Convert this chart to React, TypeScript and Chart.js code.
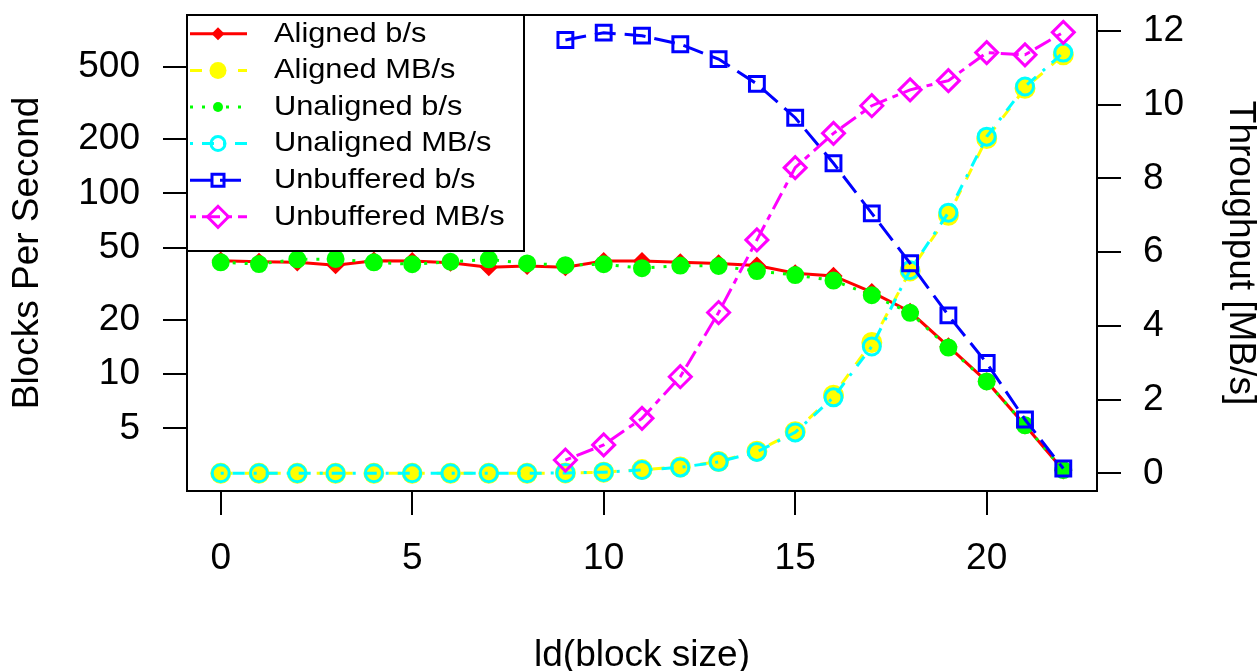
import React, { useEffect, useRef } from 'react';
import { Chart, registerables } from 'chart.js';

Chart.register(...registerables);

// ---------- data ----------
const blockSizeLd = [0, 1, 2, 3, 4, 5, 6, 7, 8, 9, 10, 11, 12, 13, 14, 15, 16, 17, 18, 19, 20, 21, 22];

const alignedBps = [42.4, 41.8, 41.5, 40.0, 42.4, 42.2, 41.3, 39.0, 39.6, 39.0, 42.2, 42.2, 41.5, 40.9, 39.8, 36.1, 34.9, 28.4, 22.1, 14.2, 9.1, 5.2, 2.93];
const alignedMBs = [0, 0, 0, 0, 0, 0, 0, 0, 0, 0.01, 0.03, 0.1, 0.17, 0.32, 0.6, 1.13, 2.12, 3.55, 5.49, 7.0, 9.08, 10.44, 11.35];
const unalignedBps = [41.5, 40.6, 43.1, 43.3, 41.5, 40.5, 41.8, 43.1, 40.9, 40.0, 40.5, 38.5, 39.8, 39.6, 37.1, 35.3, 32.9, 27.3, 21.8, 14.0, 9.1, 5.2, 2.94];
const unalignedMBs = [0, 0, 0, 0, 0, 0, 0, 0, 0, 0.01, 0.03, 0.09, 0.16, 0.31, 0.58, 1.11, 2.06, 3.44, 5.51, 7.07, 9.13, 10.49, 11.41];
const unbufferedBps = [null, null, null, null, null, null, null, null, null, 705, 774, 745, 668, 553, 403, 262, 146.6, 77.5, 41, 21.1, 11.5, 5.6, 3.0];
const unbufferedMBs = [null, null, null, null, null, null, null, null, null, 0.36, 0.77, 1.49, 2.62, 4.36, 6.33, 8.29, 9.22, 9.97, 10.4, 10.65, 11.41, 11.35, 11.96];

const seriesLabels = ['Aligned b/s', 'Aligned MB/s', 'Unaligned b/s', 'Unaligned MB/s', 'Unbuffered b/s', 'Unbuffered MB/s'];
const seriesValues = [alignedBps, alignedMBs, unalignedBps, unalignedMBs, unbufferedBps, unbufferedMBs];
const seriesAxis = ['y', 'y1', 'y', 'y1', 'y', 'y1'];

const xTicks = [0, 5, 10, 15, 20];
const leftTicks = [5, 10, 20, 50, 100, 200, 500];
const rightTicks = [0, 2, 4, 6, 8, 10, 12];

const xTitle = 'ld(block size)';
const leftTitle = 'Blocks Per Second';
const rightTitle = 'Throughput [MB/s]';

// ---------- styles ----------
const FONT = '"Liberation Sans", Arial, Helvetica, sans-serif';

type Style = {
  color: string;
  dash: number[];
  shape: 'circle' | 'rect' | 'rectRot';
  radius: number;
  legendRadius: number;
  filled: boolean;
};

const styles: Style[] = [
  { color: '#FF0000', dash: [], shape: 'rectRot', radius: 7, legendRadius: 6.5, filled: true },
  { color: '#FFFF00', dash: [12, 12], shape: 'circle', radius: 9, legendRadius: 8.5, filled: true },
  { color: '#00FF00', dash: [3, 9], shape: 'circle', radius: 7.5, legendRadius: 5, filled: true },
  { color: '#00FFFF', dash: [3, 9, 12, 9], shape: 'circle', radius: 8.5, legendRadius: 7, filled: false },
  { color: '#0000FF', dash: [21, 9], shape: 'rect', radius: 10.5, legendRadius: 8.5, filled: false },
  { color: '#FF00FF', dash: [6, 6, 18, 6], shape: 'rectRot', radius: 11, legendRadius: 10.5, filled: false },
];

function drawMarker(ctx: CanvasRenderingContext2D, s: Style, x: number, y: number, r: number) {
  ctx.save();
  ctx.setLineDash([]);
  ctx.lineWidth = 3;
  ctx.strokeStyle = s.color;
  ctx.fillStyle = s.color;
  ctx.beginPath();
  if (s.shape === 'circle') {
    ctx.arc(x, y, r, 0, Math.PI * 2);
  } else if (s.shape === 'rect') {
    const h = r * Math.SQRT1_2;
    ctx.rect(x - h, y - h, 2 * h, 2 * h);
  } else {
    ctx.moveTo(x - r, y);
    ctx.lineTo(x, y - r);
    ctx.lineTo(x + r, y);
    ctx.lineTo(x, y + r);
    ctx.closePath();
  }
  if (s.filled) ctx.fill();
  else ctx.stroke();
  ctx.restore();
}

const framePlugin = {
  id: 'frameAndLegend',
  afterDraw(chart: any) {
    const { ctx, chartArea } = chart;
    ctx.save();
    // plot box
    ctx.strokeStyle = '#000';
    ctx.lineWidth = 2;
    ctx.setLineDash([]);
    ctx.strokeRect(chartArea.left, chartArea.top, chartArea.right - chartArea.left, chartArea.bottom - chartArea.top);

    // legend box
    const lx = chartArea.left;
    const ly = chartArea.top;
    const lw = 337;
    const lh = 236;
    ctx.fillStyle = '#fff';
    ctx.fillRect(lx, ly, lw, lh);
    ctx.strokeRect(lx, ly, lw, lh);

    const rowH = 36.6;
    const firstRow = ly + 18.8;
    seriesLabels.forEach((label, i) => {
      const s = styles[i];
      const y = firstRow + i * rowH;
      ctx.save();
      ctx.beginPath();
      ctx.rect(lx + 3, y - 10, 57, 20);
      ctx.clip();
      ctx.strokeStyle = s.color;
      ctx.lineWidth = 3;
      ctx.setLineDash(s.dash);
      ctx.lineCap = 'butt';
      ctx.beginPath();
      ctx.moveTo(lx + 3, y);
      ctx.lineTo(lx + 60, y);
      ctx.stroke();
      ctx.restore();
      drawMarker(ctx, s, lx + 31, y, s.legendRadius);
      ctx.save();
      ctx.fillStyle = '#000';
      ctx.font = `28px ${FONT}`;
      ctx.textBaseline = 'middle';
      ctx.textAlign = 'left';
      ctx.translate(lx + 87, y);
      ctx.scale(1.1, 1);
      ctx.fillText(label, 0, 0);
      ctx.restore();
    });
    ctx.restore();
  },
};

const tickFont = { family: FONT, size: 37, lineHeight: 1 };
const titleFont = { family: FONT, size: 37, lineHeight: 1 };

export default function App() {
  const ref = useRef<HTMLCanvasElement | null>(null);

  useEffect(() => {
    if (!ref.current) return;
    const datasets = seriesLabels.map((label, i) => {
      const s = styles[i];
      return {
        label,
        data: blockSizeLd.map((x, j) => ({ x, y: seriesValues[i][j] })),
        yAxisID: seriesAxis[i],
        borderColor: s.color,
        borderWidth: 3,
        borderDash: s.dash,
        borderCapStyle: 'butt' as const,
        backgroundColor: s.color,
        pointStyle: s.shape,
        pointRadius: s.radius,
        pointBorderWidth: 3,
        pointBorderColor: s.color,
        pointBackgroundColor: s.filled ? s.color : 'rgba(0,0,0,0)',
        pointHoverRadius: s.radius,
        tension: 0,
        fill: false,
        spanGaps: false,
        order: 5 - i,
      };
    });

    const chart = new Chart(ref.current, {
      type: 'line',
      data: { datasets },
      options: {
        animation: false,
        responsive: false,
        maintainAspectRatio: false,
        events: [],
        layout: { padding: { top: 15, left: 0, right: 0, bottom: 0 } },
        plugins: { legend: { display: false }, tooltip: { enabled: false }, title: { display: false } },
        scales: {
          x: {
            type: 'linear',
            position: 'bottom',
            min: -0.88,
            max: 22.88,
            afterBuildTicks: (s: any) => { s.ticks = xTicks.map((v) => ({ value: v })); },
            afterFit: (s: any) => { s.height = 180; s.paddingLeft = 0; s.paddingRight = 0; },
            ticks: { font: tickFont, color: '#000', padding: 25, maxRotation: 0, autoSkip: false, callback: (v: any) => String(v) },
            grid: { drawOnChartArea: false, drawTicks: true, tickLength: 24, color: '#000', lineWidth: 2 },
            border: { display: false },
            title: { display: true, text: xTitle, font: titleFont, color: '#000', padding: { top: 0, bottom: -3 } },
          },
          y: {
            type: 'logarithmic',
            position: 'left',
            min: 2.252,
            max: 969.8,
            afterBuildTicks: (s: any) => { s.ticks = leftTicks.map((v) => ({ value: v })); },
            afterFit: (s: any) => { s.width = 187; s.paddingTop = 0; s.paddingBottom = 0; },
            ticks: { font: tickFont, color: '#000', padding: 23, autoSkip: false, callback: (v: any) => String(v) },
            grid: { drawOnChartArea: false, drawTicks: true, tickLength: 24, color: '#000', lineWidth: 2 },
            border: { display: false },
            title: { display: true, text: leftTitle, font: titleFont, color: '#000', padding: { top: 9, bottom: 0 } },
          },
          y1: {
            type: 'linear',
            position: 'right',
            min: -0.48,
            max: 12.43,
            afterBuildTicks: (s: any) => { s.ticks = rightTicks.map((v) => ({ value: v })); },
            afterFit: (s: any) => { s.width = 161; s.paddingTop = 0; s.paddingBottom = 0; },
            ticks: { font: tickFont, color: '#000', padding: 22, autoSkip: false, callback: (v: any) => String(v) },
            grid: { drawOnChartArea: false, drawTicks: true, tickLength: 24, color: '#000', lineWidth: 2 },
            border: { display: false },
            title: { display: true, text: rightTitle, font: titleFont, color: '#000', padding: { top: -1, bottom: 0 } },
          },
        },
      } as any,
      plugins: [framePlugin],
    });
    return () => chart.destroy();
  }, []);

  return (
    <div style={{ position: 'fixed', left: 0, top: 0, width: 1258, height: 671, background: '#fff' }}>
      <canvas ref={ref} width={1258} height={671} style={{ display: 'block', width: 1258, height: 671 }} />
    </div>
  );
}
